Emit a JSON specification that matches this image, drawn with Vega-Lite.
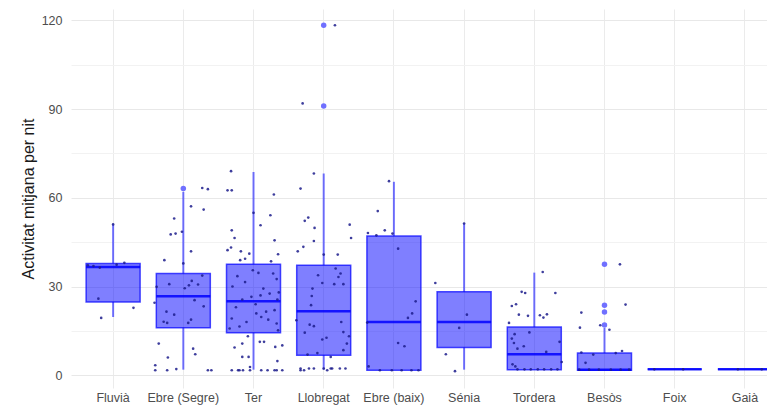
{
  "$schema": "https://vega.github.io/schema/vega-lite/v6.json",
  "width": 696,
  "height": 379,
  "autosize": {"type": "none"},
  "padding": {"left": 71, "top": 9, "right": 0, "bottom": 22},
  "background": "white",
  "config": {
    "font": "Liberation Sans",
    "view": {"stroke": null},
    "axis": {"domain": false, "ticks": false, "grid": true, "gridColor": "#ebebeb", "gridWidth": 1, "labelColor": "#4d4d4d", "labelFontSize": 12.5, "titleFontWeight": "normal", "titleColor": "#1a1a1a", "titleFontSize": 16},
    "axisX": {"labelAngle": 0, "labelPadding": 3, "labelOverlap": false, "labelFlush": false, "bandPosition": 0.5},
    "axisY": {"labelPadding": 9, "titlePadding": 5}
  },
  "datasets": {
    "boxes": [
      {"riu": "Fluvià", "lo": 19.7, "q1": 24.8, "med": 36.6, "q3": 37.8, "hi": 51.0},
      {"riu": "Ebre (Segre)", "lo": 1.9, "q1": 16.1, "med": 26.7, "q3": 34.4, "hi": 62.0},
      {"riu": "Ter", "lo": 1.9, "q1": 14.4, "med": 25.0, "q3": 37.5, "hi": 68.7},
      {"riu": "Llobregat", "lo": 1.9, "q1": 6.8, "med": 21.6, "q3": 37.2, "hi": 68.2},
      {"riu": "Ebre (baix)", "lo": 1.7, "q1": 1.7, "med": 18.0, "q3": 47.1, "hi": 65.4},
      {"riu": "Sénia", "lo": 1.9, "q1": 9.4, "med": 18.0, "q3": 28.2, "hi": 51.3},
      {"riu": "Tordera", "lo": 1.9, "q1": 1.9, "med": 7.1, "q3": 16.3, "hi": 34.7},
      {"riu": "Besòs", "lo": 1.7, "q1": 1.7, "med": 1.9, "q3": 7.5, "hi": 16.0},
      {"riu": "Foix", "lo": 2.0, "q1": 2.0, "med": 2.0, "q3": 2.0, "hi": 2.0},
      {"riu": "Gaià", "lo": 2.0, "q1": 2.0, "med": 2.0, "q3": 2.0, "hi": 2.0}
    ],
    "outliers": [
      {"riu": "Ebre (Segre)", "act": 63.1},
      {"riu": "Llobregat", "act": 118.3},
      {"riu": "Llobregat", "act": 91.0},
      {"riu": "Besòs", "act": 37.5},
      {"riu": "Besòs", "act": 23.7},
      {"riu": "Besòs", "act": 21.4},
      {"riu": "Besòs", "act": 17.0}
    ],
    "points": [
      {"riu": "Fluvià", "act": 51.0, "jit": 0.0},
      {"riu": "Fluvià", "act": 37.2, "jit": -0.36},
      {"riu": "Fluvià", "act": 36.9, "jit": -0.28},
      {"riu": "Fluvià", "act": 36.4, "jit": -0.19},
      {"riu": "Fluvià", "act": 37.4, "jit": 0.05},
      {"riu": "Fluvià", "act": 38.0, "jit": 0.16},
      {"riu": "Fluvià", "act": 25.9, "jit": -0.21},
      {"riu": "Fluvià", "act": 22.8, "jit": 0.29},
      {"riu": "Fluvià", "act": 19.4, "jit": -0.17},
      {"riu": "Ebre (Segre)", "act": 63.3, "jit": 0.27},
      {"riu": "Ebre (Segre)", "act": 62.9, "jit": 0.35},
      {"riu": "Ebre (Segre)", "act": 57.1, "jit": 0.11},
      {"riu": "Ebre (Segre)", "act": 56.0, "jit": 0.29},
      {"riu": "Ebre (Segre)", "act": 53.0, "jit": -0.13},
      {"riu": "Ebre (Segre)", "act": 47.6, "jit": -0.18},
      {"riu": "Ebre (Segre)", "act": 47.9, "jit": -0.11},
      {"riu": "Ebre (Segre)", "act": 48.5, "jit": -0.02},
      {"riu": "Ebre (Segre)", "act": 41.9, "jit": 0.11},
      {"riu": "Ebre (Segre)", "act": 38.9, "jit": -0.27},
      {"riu": "Ebre (Segre)", "act": 37.8, "jit": 0.0},
      {"riu": "Ebre (Segre)", "act": 29.9, "jit": -0.38},
      {"riu": "Ebre (Segre)", "act": 30.8, "jit": -0.2},
      {"riu": "Ebre (Segre)", "act": 29.4, "jit": 0.02},
      {"riu": "Ebre (Segre)", "act": 30.4, "jit": 0.08},
      {"riu": "Ebre (Segre)", "act": 31.9, "jit": 0.12},
      {"riu": "Ebre (Segre)", "act": 30.7, "jit": 0.21},
      {"riu": "Ebre (Segre)", "act": 33.7, "jit": 0.27},
      {"riu": "Ebre (Segre)", "act": 25.4, "jit": 0.16},
      {"riu": "Ebre (Segre)", "act": 24.5, "jit": -0.41},
      {"riu": "Ebre (Segre)", "act": 23.3, "jit": 0.29},
      {"riu": "Ebre (Segre)", "act": 21.5, "jit": -0.24},
      {"riu": "Ebre (Segre)", "act": 20.5, "jit": -0.13},
      {"riu": "Ebre (Segre)", "act": 18.1, "jit": -0.28},
      {"riu": "Ebre (Segre)", "act": 17.7, "jit": -0.23},
      {"riu": "Ebre (Segre)", "act": 18.8, "jit": 0.11},
      {"riu": "Ebre (Segre)", "act": 17.7, "jit": 0.07},
      {"riu": "Ebre (Segre)", "act": 10.7, "jit": -0.35},
      {"riu": "Ebre (Segre)", "act": 9.0, "jit": 0.14},
      {"riu": "Ebre (Segre)", "act": 7.1, "jit": 0.17},
      {"riu": "Ebre (Segre)", "act": 6.0, "jit": -0.22},
      {"riu": "Ebre (Segre)", "act": 3.4, "jit": -0.4},
      {"riu": "Ebre (Segre)", "act": 1.7, "jit": -0.4},
      {"riu": "Ebre (Segre)", "act": 1.7, "jit": -0.23},
      {"riu": "Ebre (Segre)", "act": 2.1, "jit": -0.1},
      {"riu": "Ebre (Segre)", "act": 1.7, "jit": 0.35},
      {"riu": "Ebre (Segre)", "act": 1.7, "jit": 0.4},
      {"riu": "Ter", "act": 69.0, "jit": -0.32},
      {"riu": "Ter", "act": 62.5, "jit": -0.37},
      {"riu": "Ter", "act": 62.5, "jit": -0.31},
      {"riu": "Ter", "act": 54.9, "jit": 0.0},
      {"riu": "Ter", "act": 61.1, "jit": 0.29},
      {"riu": "Ter", "act": 54.1, "jit": 0.24},
      {"riu": "Ter", "act": 50.7, "jit": 0.1},
      {"riu": "Ter", "act": 49.0, "jit": -0.31},
      {"riu": "Ter", "act": 46.4, "jit": -0.27},
      {"riu": "Ter", "act": 45.6, "jit": 0.3},
      {"riu": "Ter", "act": 42.3, "jit": -0.37},
      {"riu": "Ter", "act": 43.2, "jit": -0.32},
      {"riu": "Ter", "act": 41.9, "jit": -0.18},
      {"riu": "Ter", "act": 41.1, "jit": -0.06},
      {"riu": "Ter", "act": 39.4, "jit": -0.12},
      {"riu": "Ter", "act": 38.9, "jit": -0.19},
      {"riu": "Ter", "act": 38.5, "jit": 0.25},
      {"riu": "Ter", "act": 40.9, "jit": 0.35},
      {"riu": "Ter", "act": 33.5, "jit": -0.23},
      {"riu": "Ter", "act": 34.6, "jit": 0.07},
      {"riu": "Ter", "act": 31.5, "jit": -0.12},
      {"riu": "Ter", "act": 34.4, "jit": 0.28},
      {"riu": "Ter", "act": 29.3, "jit": 0.14},
      {"riu": "Ter", "act": 27.6, "jit": 0.23},
      {"riu": "Ter", "act": 26.5, "jit": -0.03},
      {"riu": "Ter", "act": 24.0, "jit": 0.03},
      {"riu": "Ter", "act": 25.6, "jit": -0.16},
      {"riu": "Ter", "act": 25.6, "jit": 0.34},
      {"riu": "Ter", "act": 22.0, "jit": 0.3},
      {"riu": "Ter", "act": 20.9, "jit": 0.04},
      {"riu": "Ter", "act": 18.0, "jit": -0.1},
      {"riu": "Ter", "act": 19.2, "jit": -0.31},
      {"riu": "Ter", "act": 15.8, "jit": -0.34},
      {"riu": "Ter", "act": 17.5, "jit": 0.33},
      {"riu": "Ter", "act": 15.2, "jit": 0.35},
      {"riu": "Ter", "act": 18.8, "jit": 0.21},
      {"riu": "Ter", "act": 19.7, "jit": 0.11},
      {"riu": "Ter", "act": 13.2, "jit": -0.08},
      {"riu": "Ter", "act": 11.3, "jit": 0.09},
      {"riu": "Ter", "act": 9.4, "jit": -0.27},
      {"riu": "Ter", "act": 10.7, "jit": -0.16},
      {"riu": "Ter", "act": 11.3, "jit": 0.15},
      {"riu": "Ter", "act": 9.6, "jit": 0.31},
      {"riu": "Ter", "act": 10.1, "jit": 0.41},
      {"riu": "Ter", "act": 6.2, "jit": -0.16},
      {"riu": "Ter", "act": 6.2, "jit": -0.07},
      {"riu": "Ter", "act": 4.8, "jit": 0.34},
      {"riu": "Ter", "act": 2.8, "jit": -0.05},
      {"riu": "Ter", "act": 30.0, "jit": -0.3},
      {"riu": "Ter", "act": 28.0, "jit": 0.36},
      {"riu": "Ter", "act": 23.0, "jit": -0.25},
      {"riu": "Ter", "act": 21.5, "jit": 0.18},
      {"riu": "Ter", "act": 35.5, "jit": -0.01},
      {"riu": "Ter", "act": 27.0, "jit": 0.1},
      {"riu": "Ter", "act": 32.5, "jit": 0.33},
      {"riu": "Ter", "act": 16.5, "jit": -0.2},
      {"riu": "Ter", "act": 1.7, "jit": -0.31},
      {"riu": "Ter", "act": 1.7, "jit": -0.22},
      {"riu": "Ter", "act": 1.7, "jit": -0.2},
      {"riu": "Ter", "act": 1.7, "jit": -0.15},
      {"riu": "Ter", "act": 1.7, "jit": -0.05},
      {"riu": "Ter", "act": 1.7, "jit": 0.11},
      {"riu": "Ter", "act": 1.7, "jit": 0.2},
      {"riu": "Ter", "act": 1.7, "jit": 0.3},
      {"riu": "Ter", "act": 1.7, "jit": 0.33},
      {"riu": "Ter", "act": 1.7, "jit": 0.41},
      {"riu": "Llobregat", "act": 118.3, "jit": 0.16},
      {"riu": "Llobregat", "act": 91.9, "jit": -0.3},
      {"riu": "Llobregat", "act": 68.2, "jit": -0.14},
      {"riu": "Llobregat", "act": 63.1, "jit": -0.33},
      {"riu": "Llobregat", "act": 52.2, "jit": -0.27},
      {"riu": "Llobregat", "act": 53.3, "jit": -0.22},
      {"riu": "Llobregat", "act": 49.8, "jit": -0.13},
      {"riu": "Llobregat", "act": 50.9, "jit": 0.37},
      {"riu": "Llobregat", "act": 46.4, "jit": 0.39},
      {"riu": "Llobregat", "act": 45.4, "jit": -0.14},
      {"riu": "Llobregat", "act": 43.4, "jit": -0.29},
      {"riu": "Llobregat", "act": 41.9, "jit": -0.37},
      {"riu": "Llobregat", "act": 40.8, "jit": 0.2},
      {"riu": "Llobregat", "act": 40.8, "jit": 0.0},
      {"riu": "Llobregat", "act": 36.1, "jit": 0.17},
      {"riu": "Llobregat", "act": 34.4, "jit": 0.24},
      {"riu": "Llobregat", "act": 33.2, "jit": 0.21},
      {"riu": "Llobregat", "act": 33.8, "jit": -0.08},
      {"riu": "Llobregat", "act": 31.2, "jit": -0.02},
      {"riu": "Llobregat", "act": 30.8, "jit": 0.15},
      {"riu": "Llobregat", "act": 30.8, "jit": 0.28},
      {"riu": "Llobregat", "act": 29.3, "jit": -0.16},
      {"riu": "Llobregat", "act": 26.8, "jit": -0.17},
      {"riu": "Llobregat", "act": 23.7, "jit": -0.18},
      {"riu": "Llobregat", "act": 18.6, "jit": -0.39},
      {"riu": "Llobregat", "act": 17.1, "jit": -0.2},
      {"riu": "Llobregat", "act": 16.6, "jit": -0.14},
      {"riu": "Llobregat", "act": 18.0, "jit": 0.25},
      {"riu": "Llobregat", "act": 14.4, "jit": -0.27},
      {"riu": "Llobregat", "act": 14.6, "jit": 0.28},
      {"riu": "Llobregat", "act": 12.7, "jit": 0.04},
      {"riu": "Llobregat", "act": 12.1, "jit": -0.02},
      {"riu": "Llobregat", "act": 13.2, "jit": 0.36},
      {"riu": "Llobregat", "act": 10.7, "jit": 0.33},
      {"riu": "Llobregat", "act": 8.5, "jit": 0.28},
      {"riu": "Llobregat", "act": 6.2, "jit": 0.1},
      {"riu": "Llobregat", "act": 7.5, "jit": -0.09},
      {"riu": "Llobregat", "act": 7.0, "jit": -0.23},
      {"riu": "Llobregat", "act": 2.3, "jit": -0.33},
      {"riu": "Llobregat", "act": 2.3, "jit": -0.21},
      {"riu": "Llobregat", "act": 2.3, "jit": -0.14},
      {"riu": "Llobregat", "act": 2.3, "jit": 0.0},
      {"riu": "Llobregat", "act": 2.3, "jit": 0.1},
      {"riu": "Llobregat", "act": 2.3, "jit": 0.12},
      {"riu": "Llobregat", "act": 2.3, "jit": 0.23},
      {"riu": "Llobregat", "act": 2.3, "jit": 0.31},
      {"riu": "Llobregat", "act": 1.7, "jit": -0.33},
      {"riu": "Llobregat", "act": 1.7, "jit": -0.28},
      {"riu": "Llobregat", "act": 1.7, "jit": 0.05},
      {"riu": "Ebre (baix)", "act": 65.6, "jit": -0.07},
      {"riu": "Ebre (baix)", "act": 55.5, "jit": -0.23},
      {"riu": "Ebre (baix)", "act": 49.0, "jit": -0.13},
      {"riu": "Ebre (baix)", "act": 48.1, "jit": -0.37},
      {"riu": "Ebre (baix)", "act": 47.3, "jit": -0.25},
      {"riu": "Ebre (baix)", "act": 47.9, "jit": -0.02},
      {"riu": "Ebre (baix)", "act": 42.8, "jit": 0.06},
      {"riu": "Ebre (baix)", "act": 25.0, "jit": 0.31},
      {"riu": "Ebre (baix)", "act": 20.9, "jit": 0.26},
      {"riu": "Ebre (baix)", "act": 19.4, "jit": 0.2},
      {"riu": "Ebre (baix)", "act": 17.8, "jit": -0.38},
      {"riu": "Ebre (baix)", "act": 10.9, "jit": 0.06},
      {"riu": "Ebre (baix)", "act": 9.8, "jit": 0.15},
      {"riu": "Ebre (baix)", "act": 3.0, "jit": -0.36},
      {"riu": "Ebre (baix)", "act": 1.7, "jit": -0.2},
      {"riu": "Ebre (baix)", "act": 1.7, "jit": -0.03},
      {"riu": "Ebre (baix)", "act": 1.7, "jit": 0.11},
      {"riu": "Ebre (baix)", "act": 1.7, "jit": 0.25},
      {"riu": "Ebre (baix)", "act": 1.7, "jit": 0.35},
      {"riu": "Sénia", "act": 51.3, "jit": 0.0},
      {"riu": "Sénia", "act": 31.2, "jit": -0.41},
      {"riu": "Sénia", "act": 20.5, "jit": 0.04},
      {"riu": "Sénia", "act": 16.0, "jit": -0.07},
      {"riu": "Sénia", "act": 7.1, "jit": -0.26},
      {"riu": "Sénia", "act": 1.4, "jit": -0.13},
      {"riu": "Tordera", "act": 34.9, "jit": 0.12},
      {"riu": "Tordera", "act": 28.2, "jit": -0.18},
      {"riu": "Tordera", "act": 27.8, "jit": -0.13},
      {"riu": "Tordera", "act": 27.8, "jit": 0.3},
      {"riu": "Tordera", "act": 23.4, "jit": -0.32},
      {"riu": "Tordera", "act": 24.0, "jit": -0.26},
      {"riu": "Tordera", "act": 20.5, "jit": -0.22},
      {"riu": "Tordera", "act": 20.1, "jit": -0.09},
      {"riu": "Tordera", "act": 20.3, "jit": 0.08},
      {"riu": "Tordera", "act": 19.5, "jit": 0.13},
      {"riu": "Tordera", "act": 20.6, "jit": 0.18},
      {"riu": "Tordera", "act": 17.7, "jit": -0.36},
      {"riu": "Tordera", "act": 14.5, "jit": -0.07},
      {"riu": "Tordera", "act": 13.9, "jit": -0.28},
      {"riu": "Tordera", "act": 12.4, "jit": -0.32},
      {"riu": "Tordera", "act": 10.9, "jit": -0.29},
      {"riu": "Tordera", "act": 9.0, "jit": -0.24},
      {"riu": "Tordera", "act": 9.8, "jit": -0.15},
      {"riu": "Tordera", "act": 11.3, "jit": 0.36},
      {"riu": "Tordera", "act": 7.9, "jit": 0.17},
      {"riu": "Tordera", "act": 4.5, "jit": 0.39},
      {"riu": "Tordera", "act": 3.7, "jit": -0.31},
      {"riu": "Tordera", "act": 3.0, "jit": -0.27},
      {"riu": "Tordera", "act": 2.0, "jit": -0.24},
      {"riu": "Tordera", "act": 2.0, "jit": -0.14},
      {"riu": "Tordera", "act": 2.0, "jit": -0.05},
      {"riu": "Tordera", "act": 2.0, "jit": 0.05},
      {"riu": "Tordera", "act": 2.0, "jit": 0.14},
      {"riu": "Tordera", "act": 2.0, "jit": 0.24},
      {"riu": "Tordera", "act": 2.0, "jit": 0.33},
      {"riu": "Besòs", "act": 37.5, "jit": 0.22},
      {"riu": "Besòs", "act": 23.9, "jit": 0.3},
      {"riu": "Besòs", "act": 21.2, "jit": -0.33},
      {"riu": "Besòs", "act": 16.1, "jit": -0.35},
      {"riu": "Besòs", "act": 16.9, "jit": -0.06},
      {"riu": "Besòs", "act": 15.4, "jit": 0.07},
      {"riu": "Besòs", "act": 4.2, "jit": -0.27},
      {"riu": "Besòs", "act": 7.0, "jit": -0.16},
      {"riu": "Besòs", "act": 7.5, "jit": 0.16},
      {"riu": "Besòs", "act": 8.2, "jit": 0.25},
      {"riu": "Besòs", "act": 7.7, "jit": -0.33},
      {"riu": "Besòs", "act": 1.9, "jit": -0.36},
      {"riu": "Besòs", "act": 1.9, "jit": -0.22},
      {"riu": "Besòs", "act": 1.9, "jit": -0.08},
      {"riu": "Besòs", "act": 1.9, "jit": 0.09},
      {"riu": "Besòs", "act": 1.9, "jit": 0.23},
      {"riu": "Besòs", "act": 1.9, "jit": 0.35},
      {"riu": "Foix", "act": 2.0, "jit": -0.29},
      {"riu": "Foix", "act": 2.0, "jit": 0.12},
      {"riu": "Gaià", "act": 2.0, "jit": 0.24},
      {"riu": "Gaià", "act": 2.0, "jit": -0.1}
    ]
  },
  "encoding": {
    "x": {
      "field": "riu",
      "type": "nominal",
      "title": null,
      "scale": {
        "domain": ["Fluvià", "Ebre (Segre)", "Ter", "Llobregat", "Ebre (baix)", "Sénia", "Tordera", "Besòs", "Foix", "Gaià"],
        "range": [0, 716],
        "paddingInner": 0,
        "paddingOuter": 0.1
      }
    }
  },
  "layer": [
    {
      "data": {"name": "boxes"},
      "mark": {"type": "rule", "color": "#0000ff", "opacity": 0.55, "strokeWidth": 2},
      "encoding": {
        "y": {
          "field": "lo",
          "type": "quantitative",
          "title": "Activitat mitjana per nit",
          "scale": {"domain": [-4.3, 123.8], "nice": false, "zero": false},
          "axis": {
            "values": [0, 15, 30, 45, 60, 75, 90, 105, 120],
            "labelExpr": "datum.value % 30 === 0 ? datum.label : ''",
            "gridColor": {"condition": {"test": "datum.value % 30 === 0", "value": "#e8e8e8"}, "value": "#f2f2f2"}
          }
        },
        "y2": {"field": "q1"}
      }
    },
    {
      "data": {"name": "boxes"},
      "mark": {"type": "rule", "color": "#0000ff", "opacity": 0.55, "strokeWidth": 2},
      "encoding": {
        "y": {"field": "q3", "type": "quantitative", "title": "Activitat mitjana per nit"},
        "y2": {"field": "hi"}
      }
    },
    {
      "data": {"name": "boxes"},
      "mark": {"type": "bar", "size": 54, "fill": "#0000ff", "fillOpacity": 0.5, "stroke": "#0000ff", "strokeOpacity": 0.7, "strokeWidth": 1.5},
      "encoding": {
        "y": {"field": "q1", "type": "quantitative", "title": "Activitat mitjana per nit"},
        "y2": {"field": "q3"}
      }
    },
    {
      "data": {"name": "boxes"},
      "mark": {"type": "tick", "orient": "horizontal", "size": 54, "thickness": 2.5, "color": "#0000ff", "opacity": 0.85},
      "encoding": {
        "y": {"field": "med", "type": "quantitative", "title": "Activitat mitjana per nit"}
      }
    },
    {
      "data": {"name": "outliers"},
      "mark": {"type": "circle", "size": 30, "color": "#7070ff", "opacity": 1},
      "encoding": {
        "y": {"field": "act", "type": "quantitative", "title": "Activitat mitjana per nit"}
      }
    },
    {
      "data": {"name": "points"},
      "mark": {"type": "circle", "size": 7, "color": "#1c1c8c", "opacity": 0.85},
      "encoding": {
        "y": {"field": "act", "type": "quantitative", "title": "Activitat mitjana per nit"},
        "xOffset": {"field": "jit", "type": "quantitative", "scale": {"domain": [-0.5, 0.5]}}
      }
    }
  ]
}
